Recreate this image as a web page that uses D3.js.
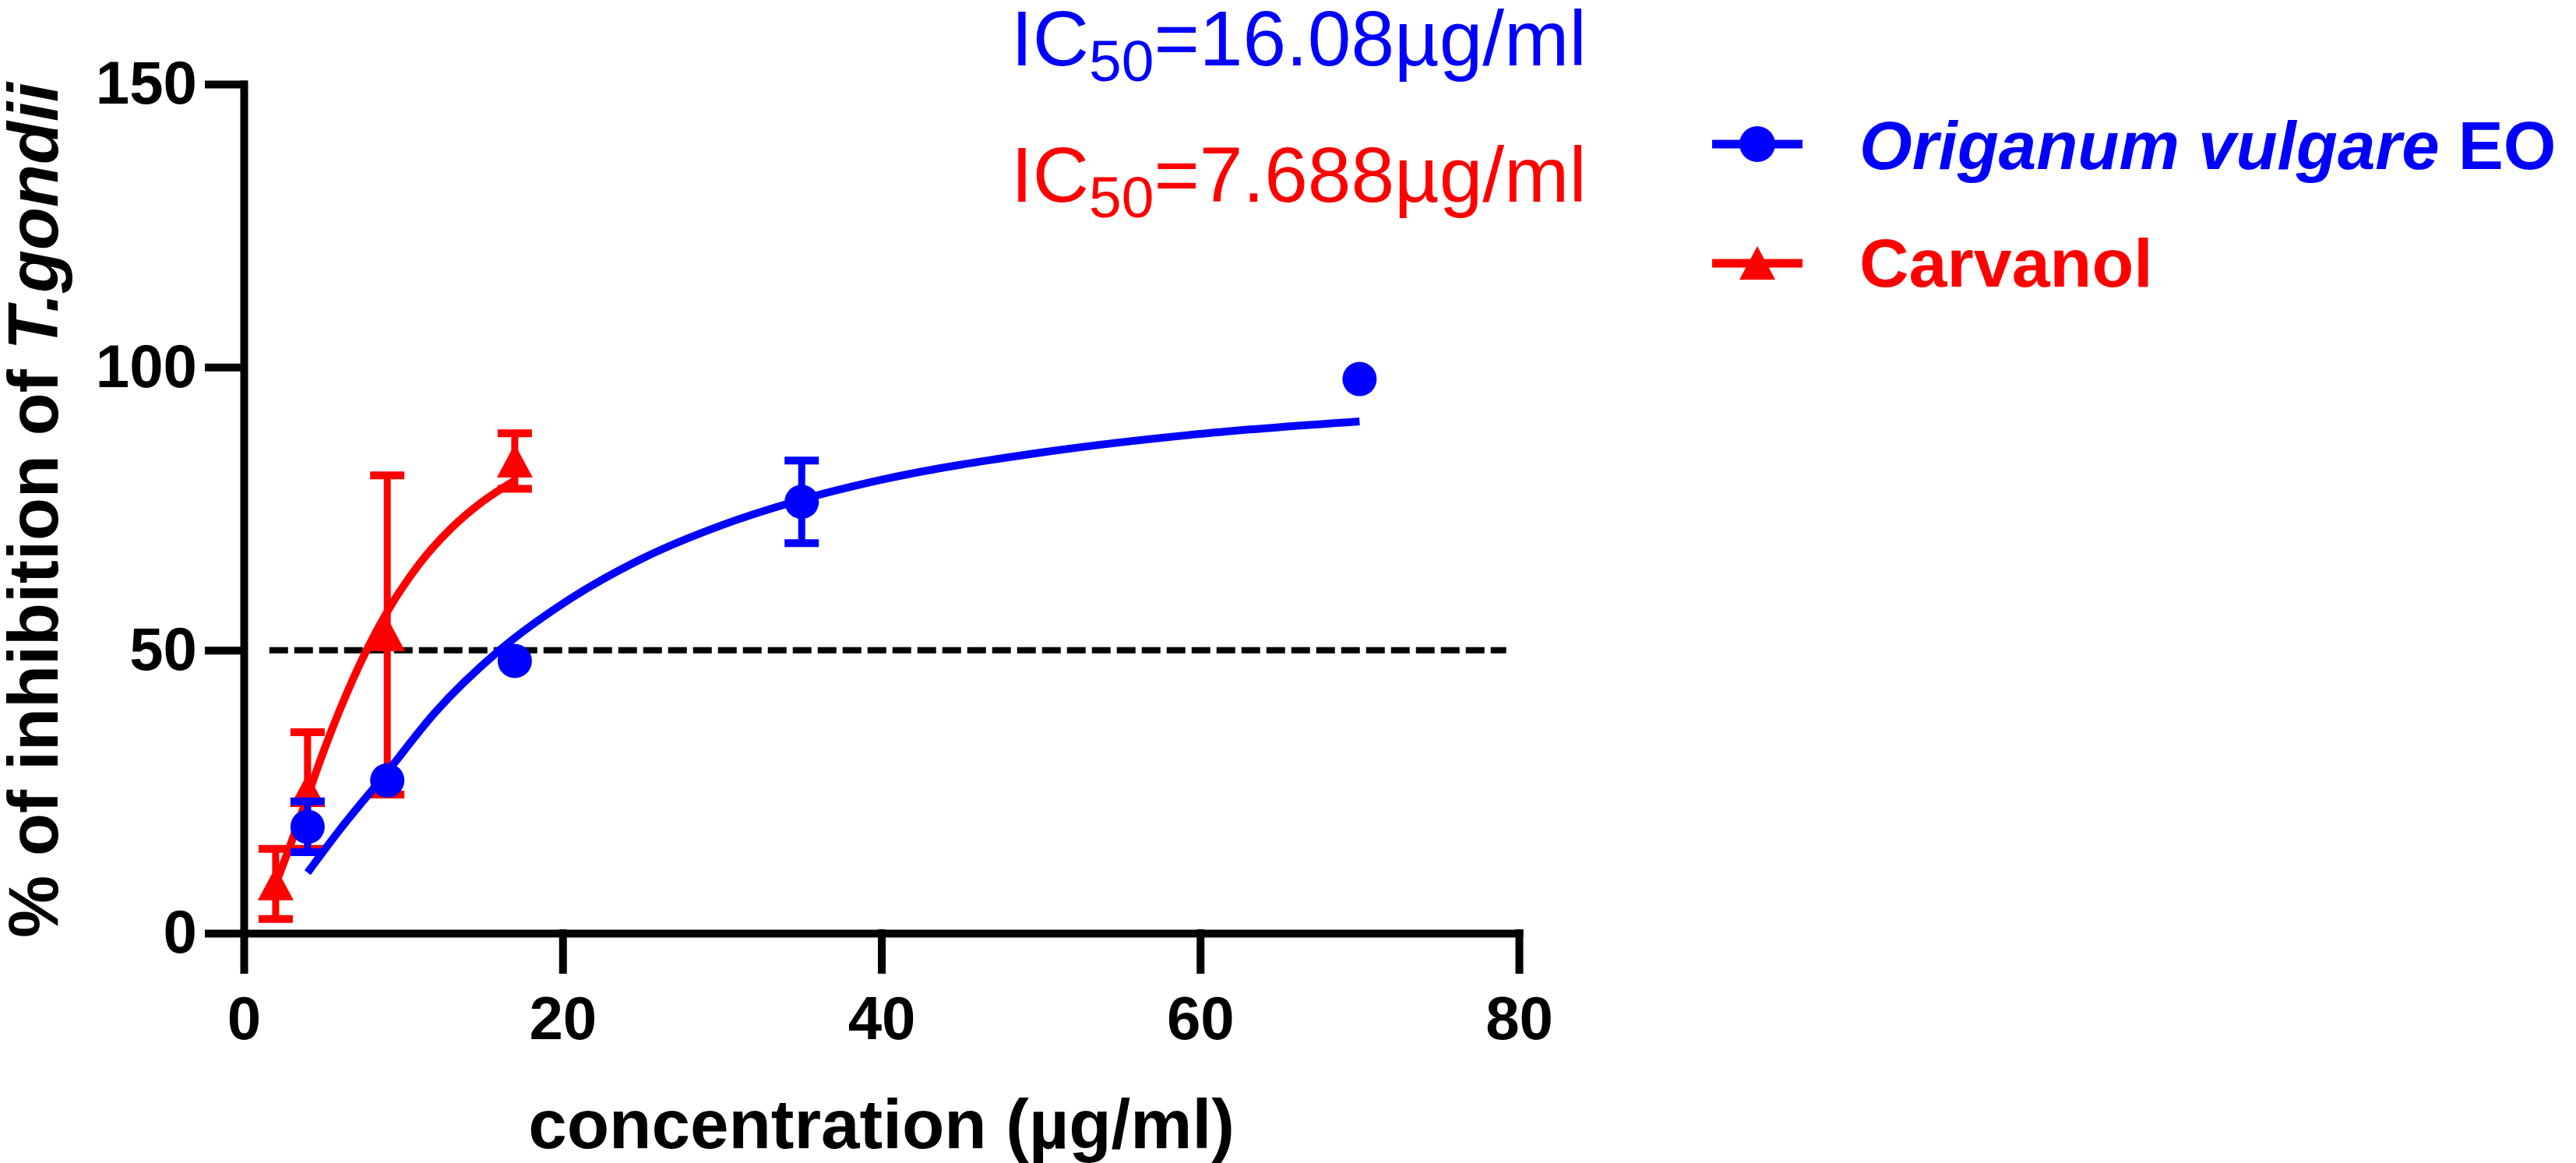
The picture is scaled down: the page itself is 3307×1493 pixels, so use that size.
<!DOCTYPE html>
<html>
<head>
<meta charset="utf-8">
<script src="https://cdn.jsdelivr.net/npm/d3@7"></script>
<style>
  body { margin: 0; background: #fff; }
  svg { display: block; font-family: "Liberation Sans", Arial, sans-serif; }
</style>
</head>
<body>
<div id="chart"></div>
<script>
// values
const xTicks = [0, 20, 40, 60, 80];
const yTicks = [0, 50, 100, 150];

const oregConc = [4, 9, 17, 35, 70];
const oregMean = [18.8, 27.0, 48.1, 76.2, 97.9];
const oregSD = [4.5, 0, 0, 7.3, 0];

const carvConc = [2, 4, 9, 17];
const carvMean = [8.7, 25.2, 52.7, 83.4];
const carvSD = [6.2, 10.3, 28.2, 4.9];

// fitted curves as they appear on the plot
const oregFitX = [4, 6, 9, 12, 16, 20, 25, 30, 35, 40, 50, 60, 70];
const oregFitY = [10.7, 18.2, 28.5, 39.0, 49.9, 58.2, 66.2, 72.1, 76.6, 80.1, 84.9, 88.2, 90.4];
const carvFitX = [2, 3, 4, 5, 6, 7.7, 9, 11, 13, 15, 17];
const carvFitY = [8.7, 16.2, 24.2, 32.1, 39.3, 50.0, 56.8, 65.2, 71.5, 76.3, 80.0];

const refX = [1.6, 79.2];
const refY = 50;

const ic50Oreg = "=16.08µg/ml";
const ic50Carv = "=7.688µg/ml";

const blue = "#0000ff", red = "#ff0000";

const width = 3307, height = 1493;

const svg = d3.select("#chart").append("svg")
    .attr("width", width)
    .attr("height", height);

const x = d3.scaleLinear().domain([0, 80]).range([313, 1950]);
const y = d3.scaleLinear().domain([0, 150]).range([1198, 108]);

// axes
const yAxis = svg.append("g")
    .attr("transform", `translate(${x(0)},0)`)
    .call(d3.axisLeft(y).tickValues(yTicks).tickSize(45).tickSizeOuter(0).tickPadding(15));
const xAxis = svg.append("g")
    .attr("transform", `translate(0,${y(0)})`)
    .call(d3.axisBottom(x).tickValues(xTicks).tickSize(47).tickSizeOuter(0).tickPadding(34));

[yAxis, xAxis].forEach(g => {
    g.selectAll("path, line")
        .attr("stroke", "#000")
        .attr("stroke-width", 10)
        .attr("stroke-linecap", "square");
    g.selectAll("text")
        .attr("fill", "#000")
        .style("font-size", "78px")
        .style("font-weight", "bold")
        .style("font-family", "'Liberation Sans', Arial, sans-serif");
});

// axis titles
svg.append("text")
    .attr("x", (x(0) + x(80)) / 2)
    .attr("y", 1474)
    .attr("text-anchor", "middle")
    .style("font-size", "89px")
    .style("font-weight", "bold")
    .text("concentration (µg/ml)");

const yTitle = svg.append("text")
    .attr("transform", "translate(74,655) rotate(-90)")
    .attr("text-anchor", "middle")
    .style("font-size", "90px")
    .style("font-weight", "bold");
yTitle.append("tspan").text("% of inhibition of ");
yTitle.append("tspan").style("font-style", "italic").text("T.gondii");

// 50% reference line
svg.append("line")
    .attr("x1", x(refX[0])).attr("x2", x(refX[1]))
    .attr("y1", y(refY)).attr("y2", y(refY))
    .attr("stroke", "#000")
    .attr("stroke-width", 8)
    .attr("stroke-dasharray", "24 8");

const line = d3.line()
    .x(d => x(d[0]))
    .y(d => y(d[1]))
    .curve(d3.curveMonotoneX);

function triangle(cx, cy) {
    return `M${cx},${cy - 22}L${cx + 23},${cy + 21}L${cx - 23},${cy + 21}Z`;
}

function drawSeries(conc, mean, sd, fitX, fitY, color, shape) {
    const g = svg.append("g");
    g.append("path")
        .datum(d3.zip(fitX, fitY))
        .attr("d", line)
        .attr("fill", "none")
        .attr("stroke", color)
        .attr("stroke-width", 10);

    const pts = conc.map((c, i) => ({ c, m: mean[i], s: sd[i] }));
    // error bars (none drawn where the SD is hidden by the marker)
    const eb = g.selectAll(".eb").data(pts.filter(d => d.s > 0)).join("g");
    eb.append("line")
        .attr("x1", d => x(d.c)).attr("x2", d => x(d.c))
        .attr("y1", d => y(d.m - d.s)).attr("y2", d => y(d.m + d.s))
        .attr("stroke", color).attr("stroke-width", 9);
    eb.append("line")
        .attr("x1", d => x(d.c) - 22).attr("x2", d => x(d.c) + 22)
        .attr("y1", d => y(d.m + d.s)).attr("y2", d => y(d.m + d.s))
        .attr("stroke", color).attr("stroke-width", 10);
    eb.append("line")
        .attr("x1", d => x(d.c) - 22).attr("x2", d => x(d.c) + 22)
        .attr("y1", d => y(d.m - d.s)).attr("y2", d => y(d.m - d.s))
        .attr("stroke", color).attr("stroke-width", 10);

    if (shape === "circle") {
        g.selectAll(".pt").data(pts).join("circle")
            .attr("cx", d => x(d.c)).attr("cy", d => y(d.m))
            .attr("r", 22).attr("fill", color);
    } else {
        g.selectAll(".pt").data(pts).join("path")
            .attr("d", d => triangle(x(d.c), y(d.m)))
            .attr("fill", color);
    }
}

drawSeries(carvConc, carvMean, carvSD, carvFitX, carvFitY, red, "triangle");
drawSeries(oregConc, oregMean, oregSD, oregFitX, oregFitY, blue, "circle");

// IC50 annotations
function ic50(yb, color, rest) {
    const t = svg.append("text")
        .attr("x", 1298).attr("y", yb)
        .attr("fill", color)
        .style("font-size", "100px");
    t.append("tspan").text("IC");
    t.append("tspan").attr("dy", 20).style("font-size", "75px").text("50");
    t.append("tspan").attr("dy", -20).text(rest);
}
ic50(84, blue, ic50Oreg);
ic50(259, red, ic50Carv);

// legend
const legend = svg.append("g");
[[185, blue, "circle"], [338, red, "triangle"]].forEach(([ly, color, shape]) => {
    legend.append("line")
        .attr("x1", 2198).attr("x2", 2314)
        .attr("y1", ly).attr("y2", ly)
        .attr("stroke", color).attr("stroke-width", 11);
    if (shape === "circle") {
        legend.append("circle").attr("cx", 2256).attr("cy", ly).attr("r", 23).attr("fill", color);
    } else {
        legend.append("path").attr("d", triangle(2256, ly)).attr("fill", color);
    }
});
const l1 = legend.append("text")
    .attr("x", 2387).attr("y", 217)
    .attr("fill", blue)
    .style("font-size", "87px").style("font-weight", "bold");
l1.append("tspan").style("font-style", "italic").text("Origanum vulgare");
l1.append("tspan").text(" EO");
legend.append("text")
    .attr("x", 2387).attr("y", 368)
    .attr("fill", red)
    .style("font-size", "88px").style("font-weight", "bold")
    .text("Carvanol");
</script>
</body>
</html>
